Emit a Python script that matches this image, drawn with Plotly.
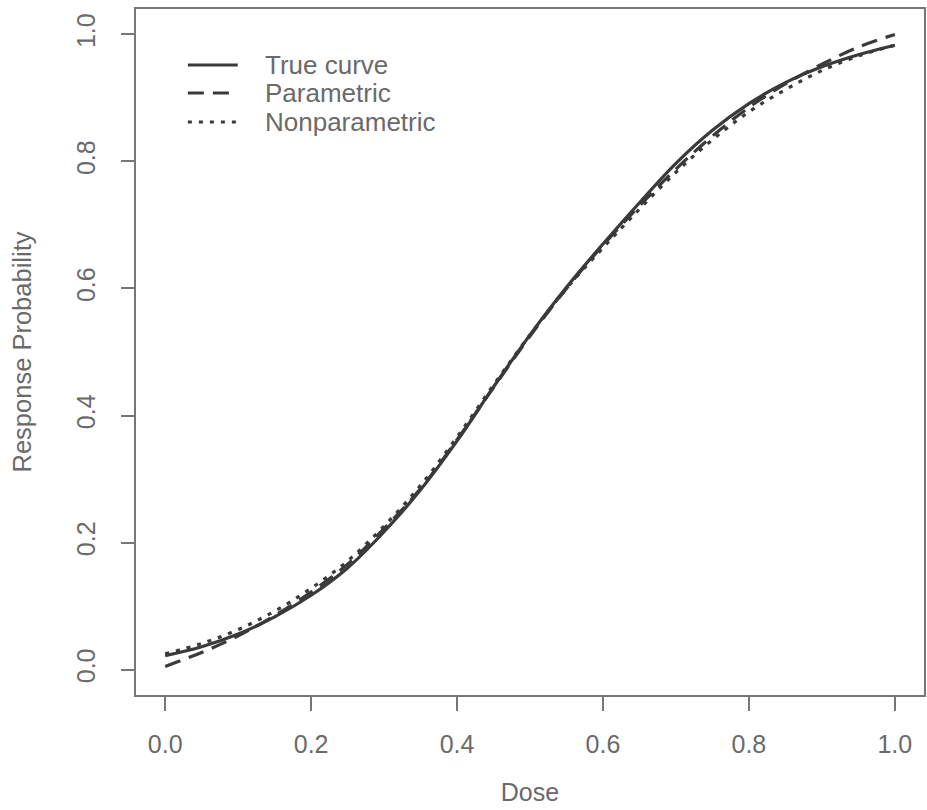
import plotly.graph_objects as go

dose = [0.0, 0.05, 0.1, 0.15, 0.2, 0.25, 0.3, 0.35, 0.4, 0.45, 0.5,
        0.55, 0.6, 0.65, 0.7, 0.75, 0.8, 0.85, 0.9, 0.95, 1.0]
true_curve = [0.022, 0.036, 0.056, 0.083, 0.117, 0.160, 0.217, 0.283, 0.360, 0.445, 0.527,
              0.602, 0.670, 0.735, 0.797, 0.849, 0.891, 0.924, 0.949, 0.968, 0.983]
parametric = [0.005, 0.027, 0.053, 0.085, 0.122, 0.166, 0.222, 0.285, 0.362, 0.444, 0.525,
              0.600, 0.668, 0.730, 0.788, 0.840, 0.885, 0.922, 0.953, 0.980, 1.000]
nonparametric = [0.025, 0.041, 0.063, 0.092, 0.128, 0.171, 0.226, 0.290, 0.366, 0.448, 0.527,
                 0.600, 0.664, 0.725, 0.783, 0.834, 0.878, 0.913, 0.943, 0.966, 0.983]

series_names = ["True curve", "Parametric", "Nonparametric"]
x_ticks = [0.0, 0.2, 0.4, 0.6, 0.8, 1.0]
y_ticks = [0.0, 0.2, 0.4, 0.6, 0.8, 1.0]
tick_text = ["0.0", "0.2", "0.4", "0.6", "0.8", "1.0"]

LINE = "#3a3a3a"
TEXT = "#6a6a6a"
AX = "#777777"
FONT = "Liberation Sans, Arial, Helvetica, sans-serif"
DASHES = ["solid", "16px,9px", "4px,7px"]

fig = go.Figure()
for name, ys, dash in zip(series_names, [true_curve, parametric, nonparametric], DASHES):
    fig.add_trace(go.Scatter(x=dose, y=ys, mode="lines", name=name, showlegend=False,
                             line=dict(color=LINE, width=3.2, dash=dash, shape="spline")))

# Manual legend (R-style compact rows): sample line + label, in paper coordinates
L, R, T, B = 136, 926, 9, 695
def px(x):
    return (x - L) / (R - L)
def py(y):
    return (B - y) / (B - T)

row_y = [65, 93, 122]
for name, dash, yy in zip(series_names, DASHES, row_y):
    fig.add_shape(type="line", xref="paper", yref="paper",
                  x0=px(188), x1=px(238), y0=py(yy), y1=py(yy),
                  line=dict(color=LINE, width=3, dash=dash))
    fig.add_annotation(xref="paper", yref="paper", x=px(263), y=py(yy),
                       xanchor="left", yanchor="middle", showarrow=False,
                       text=name, font=dict(size=26, color=TEXT, family=FONT))

fig.update_layout(
    width=927, height=810,
    margin=dict(l=L, r=927 - R, t=T, b=810 - B),
    paper_bgcolor="white", plot_bgcolor="white",
    font=dict(family=FONT, color=TEXT, size=24),
    showlegend=False,
    xaxis=dict(range=[-0.04, 1.04], tickvals=x_ticks, ticktext=tick_text,
               showgrid=False, zeroline=False, showline=True, mirror=True,
               linecolor=AX, linewidth=2, ticks="outside", ticklen=14,
               tickwidth=2, tickcolor=AX, ticklabelstandoff=12,
               tickfont=dict(size=25, color=TEXT),
               title=dict(text="Dose", font=dict(size=25, color=TEXT), standoff=26)),
    yaxis=dict(range=[-0.04, 1.04], tickvals=y_ticks, ticktext=tick_text,
               showgrid=False, zeroline=False, showline=True, mirror=True,
               linecolor=AX, linewidth=2, ticks="outside", ticklen=13,
               tickwidth=2, tickcolor=AX, tickangle=-90, ticklabelstandoff=16,
               tickfont=dict(size=25, color=TEXT),
               title=dict(text="Response Probability", font=dict(size=25.5, color=TEXT), standoff=33)),
)

fig.write_html("out.html")
